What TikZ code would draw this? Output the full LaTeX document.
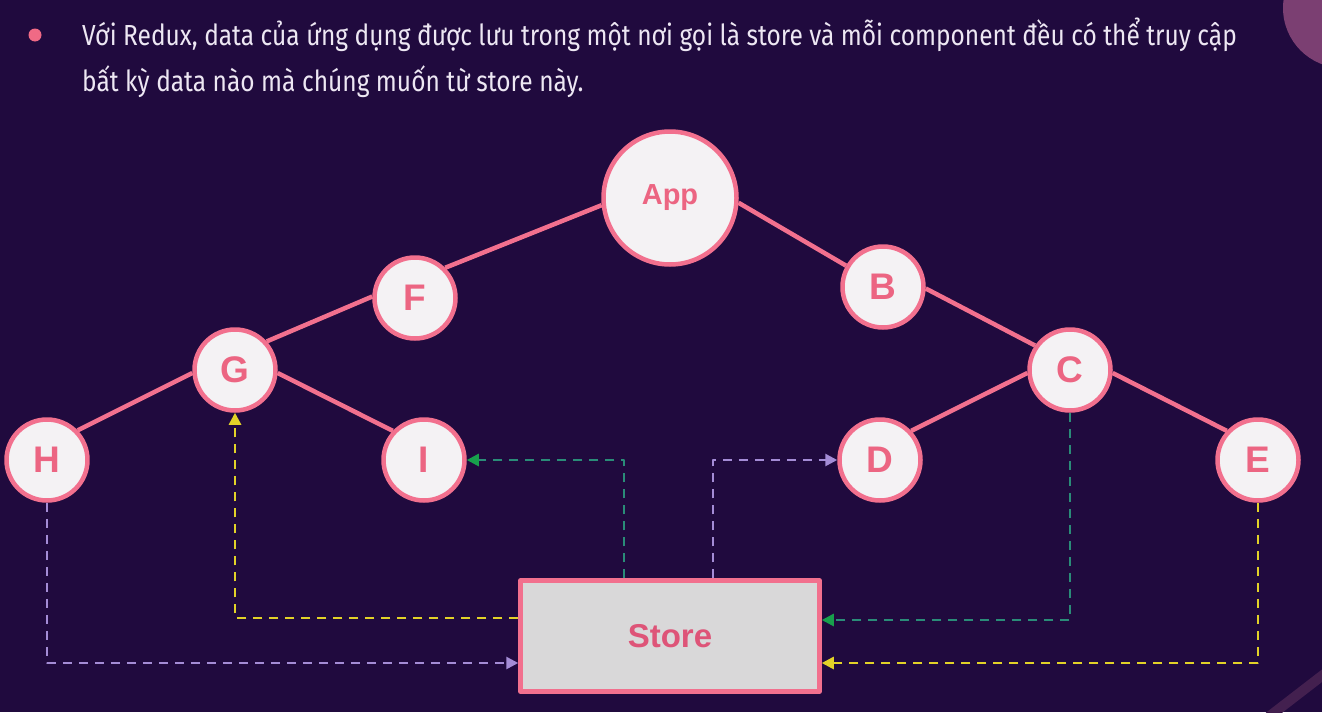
\documentclass[tikz,border=0pt]{standalone}
\usepackage{fontspec}
\setmainfont{Liberation Sans}
\newfontfamily\notefont[FakeStretch=0.845]{Fira Sans}
\usetikzlibrary{positioning}
\usetikzlibrary{arrows.meta}

\definecolor{bgpurple}{HTML}{200A3E}
\definecolor{blobpink}{HTML}{7B3F72}
\definecolor{stripepurple}{HTML}{43204F}
\definecolor{notewhite}{HTML}{EDE7F3}
\definecolor{bulletpink}{HTML}{F06A85}
\definecolor{edgepink}{HTML}{F2708E}
\definecolor{nodewhite}{HTML}{F4F2F4}
\definecolor{labelpink}{HTML}{EC6582}
\definecolor{storegrey}{HTML}{D9D8D9}
\definecolor{storetext}{HTML}{DE5478}
\definecolor{lavender}{HTML}{A48CD6}
\definecolor{yellowline}{HTML}{E2D228}
\definecolor{tealline}{HTML}{2A8C78}
\definecolor{greentip}{HTML}{18A04C}

\begin{document}
\begin{tikzpicture}[x=1pt, y=-1pt, line join=round,
	comp/.style={circle, draw=edgepink, line width=4.5pt, fill=nodewhite,
		text=labelpink, inner sep=0pt, minimum size=81pt,
		font=\fontsize{37}{37}\selectfont\bfseries},
	storebox/.style={rectangle, draw=edgepink, line width=4.5pt, fill=storegrey,
		text=storetext, minimum width=299pt, minimum height=111pt,
		font=\fontsize{33}{33}\selectfont\bfseries},
	link/.style={draw=edgepink, line width=4.5pt},
	flow/.style={dash pattern=on 9pt off 7pt, line width=2.6pt,
		-{Triangle[length=12pt,width=12pt]}},
	greenflow/.style={flow, tealline, -{Triangle[length=12pt,width=12pt,color=greentip]}}
	]
	\fill[bgpurple] (0,0) rectangle (1322,712);
	\useasboundingbox (0,0) rectangle (1322,712);
	\fill[blobpink] (1343,8) circle (60);
	\draw[stripepurple, line width=10pt] (1332,668) -- (1262,722);

	\fill[bulletpink] (35,35) circle (6.5);
	\node[anchor=base west, inner sep=0pt, text=notewhite,
		font=\notefont\fontsize{29}{29}\selectfont] (line1) at (82,45)
		{Với Redux, data của ứng dụng được lưu trong một nơi gọi là store và mỗi component đều có thể truy cập};
	\node[anchor=base west, inner sep=0pt, text=notewhite,
		font=\notefont\fontsize{29}{29}\selectfont] (line2) at (82,91)
		{bất kỳ data nào mà chúng muốn từ store này.};

	\node[comp, minimum size=133pt, font=\fontsize{29}{29}\selectfont\bfseries] (app) at (670,198) {App};
	\node[comp] (f) at (415,298) {F};
	\node[comp] (b) at (883,287) {B};
	\node[comp] (g) at (235,370) {G};
	\node[comp] (c) at (1070,370) {C};
	\node[comp] (h) at (47,460) {H};
	\node[comp] (i) at (424,460) {I};
	\node[comp] (d) at (880,460) {D};
	\node[comp] (e) at (1258,460) {E};
	\node[storebox] (store) at (670,636) {Store};

	\draw[link] (f.45) -- (app.186);
	\draw[link] (b.150) -- (app.-4);
	\draw[link] (g.42) -- (f.178);
	\draw[link] (h.44) -- (g.184);
	\draw[link] (i.137) -- (g.-4);
	\draw[link] (c.145) -- (b.-2);
	\draw[link] (d.43) -- (c.184);
	\draw[link] (e.137) -- (c.-4);

	\draw[flow, lavender] (h.south) |- ([yshift=-27pt]store.west);
	\draw[flow, yellowline] ([yshift=18pt]store.west) -| (g.south);
	\draw[greenflow] ([xshift=-46pt]store.north) |- (i.east);
	\draw[flow, lavender] ([xshift=43pt]store.north) |- (d.west);
	\draw[greenflow] (c.south) |- ([yshift=16pt]store.east);
	\draw[flow, yellowline] (e.south) |- ([yshift=-27pt]store.east);
\end{tikzpicture}
\end{document}
